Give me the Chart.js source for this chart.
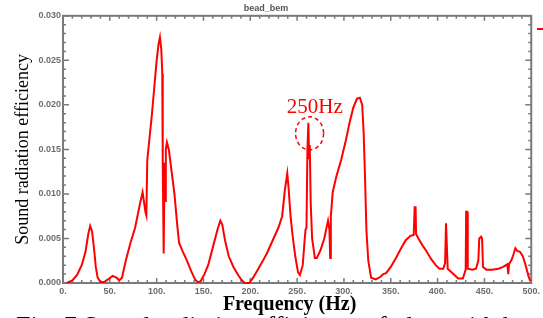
<!DOCTYPE html>
<html>
<head>
<meta charset="utf-8">
<script src="https://cdn.jsdelivr.net/npm/chart.js@4"></script>
<style>
  html, body { margin: 0; padding: 0; background: #fff; overflow: hidden; }
  #wrap { position: relative; width: 543px; height: 318px; overflow: hidden; }
  #caption {
    position: absolute; left: 16px; top: 311px; line-height: 1;
    font: 26px "Liberation Serif", serif; color: #000; white-space: nowrap;
  }
</style>
</head>
<body>
<div id="wrap">
  <canvas id="chart" width="543" height="318"></canvas>
  <div id="caption">Fig. 7 Sound radiation efficiency of plate with bead</div>
</div>
<script>
// frequency (Hz) and radiation efficiency
let freq = [
  4, 10, 15, 20, 24, 27, 29, 31, 33, 35, 37, 40, 44, 48, 53, 57, 60, 63, 67, 72,
  77, 82, 85, 88, 89, 90, 95, 100, 102, 103.5, 105, 106, 106.5, 107.5, 108.5, 109, 109.8, 111, 113, 116,
  119, 122, 124, 128, 132, 137, 141, 144, 147, 151, 155, 160, 165, 168, 170, 173, 177, 182, 187, 191,
  194, 199, 203, 208, 213, 218, 224, 230, 234, 237, 239.5, 241, 243, 245, 248, 251, 253, 256, 258, 259,
  260, 261, 262, 262.8, 263.5, 264.5, 266, 269, 271, 275, 279, 283, 284.5, 285.3, 286, 288, 292, 297, 302, 306,
  310, 314, 317, 319.5, 321, 322.5, 324, 326, 329, 334, 339, 342, 345, 350, 356, 361, 366, 371, 374.5, 375.5,
  376.5, 377, 380, 384, 388, 393, 398, 402, 406, 408, 409, 410, 410.8, 414, 418, 422, 427, 430, 430.5, 431.5,
  432.2, 437, 441, 443.5, 444.5, 446.5, 447.5, 448.5, 452, 458, 465, 470, 474.5, 475.5, 476.3, 479, 481, 483, 485, 488,
  491, 494, 497, 499
];
let efficiency = [
  0.0000, 0.0003, 0.0009, 0.0020, 0.0035, 0.0055, 0.0064, 0.0058, 0.0040, 0.0018, 0.0006, 0.0001, 0.0001, 0.0004, 0.0008, 0.0006, 0.0003, 0.0006, 0.0025, 0.0045,
  0.0062, 0.0088, 0.0102, 0.0080, 0.0076, 0.0138, 0.0190, 0.0250, 0.0268, 0.0276, 0.0262, 0.0235, 0.0135, 0.0033, 0.0135, 0.0092, 0.0150, 0.0158, 0.0150, 0.0125,
  0.0100, 0.0065, 0.0045, 0.0035, 0.0026, 0.0013, 0.0004, 0.0001, 0.0002, 0.0010, 0.0020, 0.0040, 0.0060, 0.0070, 0.0066, 0.0048, 0.0030, 0.0018, 0.0009, 0.0003,
  0.0000, 0.0000, 0.0006, 0.0015, 0.0024, 0.0034, 0.0048, 0.0062, 0.0075, 0.0105, 0.0123, 0.0105, 0.0075, 0.0055, 0.0030, 0.0012, 0.0009, 0.0020, 0.0048, 0.0060,
  0.0062, 0.0150, 0.0180, 0.0140, 0.0155, 0.0090, 0.0050, 0.0028, 0.0028, 0.0037, 0.0050, 0.0070, 0.0060, 0.0028, 0.0075, 0.0102, 0.0120, 0.0138, 0.0160, 0.0180,
  0.0197, 0.0207, 0.0208, 0.0200, 0.0170, 0.0120, 0.0059, 0.0025, 0.0006, 0.0004, 0.0007, 0.0010, 0.0011, 0.0018, 0.0029, 0.0039, 0.0048, 0.0053, 0.0054, 0.0085,
  0.0085, 0.0055, 0.0049, 0.0042, 0.0036, 0.0027, 0.0020, 0.0016, 0.0016, 0.0022, 0.0067, 0.0067, 0.0016, 0.0013, 0.0009, 0.0005, 0.0005, 0.0015, 0.0080, 0.0080,
  0.0016, 0.0015, 0.0016, 0.0025, 0.0050, 0.0052, 0.0050, 0.0018, 0.0015, 0.0015, 0.0016, 0.0018, 0.0021, 0.0010, 0.0021, 0.0026, 0.0032, 0.0039, 0.0036, 0.0035,
  0.0030, 0.0020, 0.0008, 0.0002
];

let xTicks = [0, 50, 100, 150, 200, 250, 300, 350, 400, 450, 500];
let yTicks = [0, 0.005, 0.010, 0.015, 0.020, 0.025, 0.030];

// callout around the 250 Hz spike (data coords)
let calloutText = "250Hz";
let calloutLabelAt = [239, 0.0191];
let calloutCircleAt = [263.3, 0.0168];

let points = freq.map((f, i) => ({x: f, y: efficiency[i]}));

const frame = {
  id: 'frame',
  beforeDatasetsDraw(chart) {
    const {ctx, chartArea: a, scales: {x, y}} = chart;
    ctx.save();
    ctx.strokeStyle = '#7a7a7a';
    ctx.lineWidth = 2;
    ctx.strokeRect(a.left, a.top, a.right - a.left, a.bottom - a.top);
    ctx.lineWidth = 1.5;
    ctx.beginPath();
    for (let f = 0; f <= 500; f += 10) {
      let px = x.getPixelForValue(f);
      let len = f % 50 === 0 ? 5 : 3;
      ctx.moveTo(px, a.bottom); ctx.lineTo(px, a.bottom - len);
      ctx.moveTo(px, a.top); ctx.lineTo(px, a.top + len);
    }
    for (let i = 0; i <= 30; i++) {
      let py = y.getPixelForValue(i / 1000);
      let len = i % 5 === 0 ? 6 : 3;
      ctx.moveTo(a.left, py); ctx.lineTo(a.left + len, py);
      ctx.moveTo(a.right, py); ctx.lineTo(a.right - len, py);
    }
    ctx.stroke();
    ctx.restore();
  },
  afterDatasetsDraw(chart) {
    const {ctx, scales: {x, y}} = chart;
    ctx.save();
    ctx.fillStyle = '#ff0000';
    ctx.strokeStyle = '#ff0000';
    ctx.font = '21px "Liberation Serif", serif';
    ctx.textBaseline = 'alphabetic';
    ctx.fillText(calloutText, x.getPixelForValue(calloutLabelAt[0]), y.getPixelForValue(calloutLabelAt[1]));
    ctx.lineWidth = 1.5;
    ctx.setLineDash([4, 3]);
    ctx.beginPath();
    ctx.ellipse(x.getPixelForValue(calloutCircleAt[0]), y.getPixelForValue(calloutCircleAt[1]), 14, 16.5, 0, 0, Math.PI * 2);
    ctx.stroke();
    // bit of the legend line peeking in at the right edge
    ctx.setLineDash([]);
    ctx.lineWidth = 2;
    ctx.beginPath();
    ctx.moveTo(chart.width - 6, 29);
    ctx.lineTo(chart.width, 29);
    ctx.stroke();
    ctx.restore();
  }
};

let ctx = document.getElementById('chart').getContext('2d');

let chart = new Chart(ctx, {
  type: 'line',
  data: {
    datasets: [{
      label: 'bead_bem',
      data: points,
      borderColor: '#ff0000',
      borderWidth: 2,
      pointRadius: 0,
      tension: 0,
      fill: false,
      clip: false
    }]
  },
  options: {
    responsive: false,
    animation: false,
    layout: { padding: { left: 0, right: 11, top: 0, bottom: 0 } },
    plugins: {
      legend: { display: false },
      tooltip: { enabled: false },
      title: {
        display: true,
        text: 'bead_bem',
        color: '#555',
        font: { family: '"Liberation Sans", Arial, sans-serif', size: 9 },
        padding: { top: 3, bottom: 2 }
      }
    },
    scales: {
      x: {
        type: 'linear',
        min: 0,
        max: 500,
        afterBuildTicks: s => { s.ticks = xTicks.map(v => ({value: v})); },
        afterFit: s => { s.height = 35; },
        grid: { display: false, drawTicks: false },
        border: { display: false },
        ticks: {
          autoSkip: false,
          maxRotation: 0,
          padding: 3,
          color: '#6e6e6e',
          font: { family: '"Liberation Sans", Arial, sans-serif', size: 9, weight: 'bold' },
          callback: v => v + '.'
        },
        title: {
          display: true,
          text: 'Frequency (Hz)\u00a0\u00a0\u00a0',
          color: '#000',
          font: { family: '"Liberation Serif", "Times New Roman", serif', size: 20, weight: 'bold' },
          padding: { top: 0, bottom: 1 }
        }
      },
      y: {
        min: 0,
        max: 0.03,
        afterBuildTicks: s => { s.ticks = yTicks.map(v => ({value: v})); },
        afterFit: s => { s.width = 63; },
        grid: { display: false, drawTicks: false },
        border: { display: false },
        ticks: {
          padding: 2,
          color: '#6e6e6e',
          font: { family: '"Liberation Sans", Arial, sans-serif', size: 9, weight: 'bold' },
          callback: v => v.toFixed(3)
        },
        title: {
          display: true,
          text: 'Sound radiation efficiency',
          color: '#000',
          font: { family: '"Liberation Serif", "Times New Roman", serif', size: 18 },
          padding: { top: 12, bottom: 0 }
        }
      }
    }
  },
  plugins: [frame]
});
</script>
</body>
</html>
